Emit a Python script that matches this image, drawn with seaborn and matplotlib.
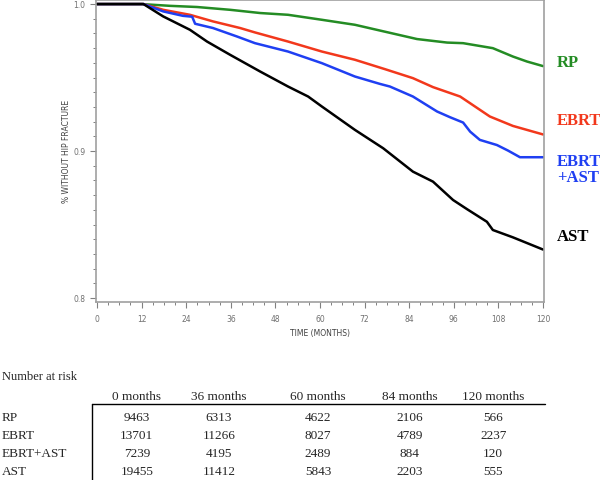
import numpy as np
import pandas as pd
import seaborn as sns
import matplotlib.pyplot as plt
from matplotlib.ticker import MultipleLocator
from matplotlib.lines import Line2D

# survival curves (months, proportion without hip fracture)
rp_month = [0, 12, 19.6, 26.9, 35.8, 43.9, 51.4, 60.5, 69.4, 76.1, 86.1, 94.2, 98.5, 106.5, 111.9, 115.7, 120]
rp_surv = [1.0, 1.0, 0.9988, 0.9980, 0.9961, 0.9939, 0.9927, 0.9893, 0.9859, 0.9820, 0.9762, 0.9738, 0.9734, 0.9700, 0.9643, 0.9609, 0.9578]

ebrt_month = [0, 12.5, 17.8, 25.0, 31.2, 38.5, 42.5, 51.4, 60.5, 69.4, 77.5, 85.0, 90.4, 97.7, 105.7, 111.9, 120]
ebrt_surv = [1.0, 1.0, 0.9961, 0.9927, 0.9882, 0.9837, 0.9807, 0.9745, 0.9677, 0.9621, 0.9557, 0.9496, 0.9435, 0.9371, 0.9235, 0.9171, 0.9113]

combo_month = [0, 12.5, 17.8, 23.1, 25.6, 26.4, 31.2, 37.7, 42.5, 51.4, 60.5, 69.4, 76.1, 78.8, 85.0, 91.5,
               95.0, 98.5, 100.4, 103.0, 107.6, 110.6, 113.8, 120]
combo_surv = [1.0, 1.0, 0.9950, 0.9920, 0.9914, 0.9866, 0.9837, 0.9779, 0.9734, 0.9677, 0.9598, 0.9507, 0.9457, 0.9439,
              0.9371, 0.9269, 0.9230, 0.9194, 0.9132, 0.9076, 0.9041, 0.9003, 0.8958, 0.8958]

ast_month = [0, 12.5, 17.8, 25.0, 29.6, 35.8, 43.9, 51.4, 56.8, 60.5, 69.4, 77.0, 85.0, 90.4, 95.8, 99.6,
             104.9, 106.5, 111.9, 120]
ast_surv = [1.0, 1.0, 0.9916, 0.9825, 0.9745, 0.9655, 0.9541, 0.9439, 0.9371, 0.9303, 0.9144, 0.9019, 0.8860,
            0.8792, 0.8667, 0.8604, 0.8519, 0.8463, 0.8413, 0.8330]

groups = ["RP", "EBRT", "EBRT+AST", "AST"]
colors = ["#248c24", "#f2381c", "#1f3ff2", "#000000"]

# number at risk table
risk_cols = ["0 months", "36 months", "60 months", "84 months", "120 months"]
risk_rp = [9463, 6313, 4622, 2106, 566]
risk_ebrt = [13701, 11266, 8027, 4789, 2237]
risk_combo = [7239, 4195, 2489, 884, 120]
risk_ast = [19455, 11412, 5843, 2203, 555]

df = pd.concat([
    pd.DataFrame({"month": rp_month, "surv": rp_surv, "group": "RP"}),
    pd.DataFrame({"month": ebrt_month, "surv": ebrt_surv, "group": "EBRT"}),
    pd.DataFrame({"month": combo_month, "surv": combo_surv, "group": "EBRT+AST"}),
    pd.DataFrame({"month": ast_month, "surv": ast_surv, "group": "AST"}),
])

sns.set_style("white")
plt.rcParams["font.family"] = ["DejaVu Sans"]

fig = plt.figure(figsize=(6, 4.8), dpi=100)
ax = fig.add_axes([0.16, 0.3708, 0.7467, 0.629])

sns.lineplot(data=df, x="month", y="surv", hue="group", hue_order=groups,
             palette=dict(zip(groups, colors)), estimator=None, sort=False,
             linewidth=1.8, legend=False, ax=ax)

ax.set_xlim(-0.27, 120.27)
ax.set_ylim(0.7973, 1.0027)
ax.set_xticks(range(0, 121, 12))
ax.xaxis.set_minor_locator(MultipleLocator(3))
ax.set_yticks([0.8, 0.9, 1.0])
ax.set_yticklabels(["0.8", "0.9", "1.0"])
ax.yaxis.set_minor_locator(MultipleLocator(0.01))
ax.tick_params(axis="both", which="major", direction="out", length=4, width=0.8,
               color="#808080", labelsize=5.5, labelcolor="#707070")
ax.tick_params(axis="both", which="minor", direction="out", length=2.5, width=0.7, color="#808080")
ax.tick_params(axis="x", pad=5)
ax.tick_params(left=True, bottom=True, which="both")

for s in ax.spines.values():
    s.set_color("#a0a0a0")
    s.set_linewidth(1.2)

ax.set_xlabel("TIME (MONTHS)", fontsize=5.5, color="#404040", labelpad=4)
ax.set_ylabel("% WITHOUT HIP FRACTURE", fontsize=5.5, color="#404040", labelpad=2)

serif = ["Liberation Serif", "DejaVu Serif"]
fig.text(0.928, 0.869, "RP", color=colors[0], fontsize=12, fontweight="bold", family=serif, va="center")
fig.text(0.928, 0.748, "EBRT", color=colors[1], fontsize=12, fontweight="bold", family=serif, va="center")
fig.text(0.928, 0.646, "EBRT\n+AST", color=colors[2], fontsize=12, fontweight="bold", family=serif,
         va="center", linespacing=1.0)
fig.text(0.928, 0.506, "AST", color=colors[3], fontsize=12, fontweight="bold", family=serif, va="center")

# number at risk
tsize = 9.5
fig.text(0.003, 0.215, "Number at risk", fontsize=9, family=serif, va="center")
col_x = [0.228, 0.365, 0.530, 0.683, 0.822]
for cx, lab in zip(col_x, risk_cols):
    fig.text(cx, 0.173, lab, fontsize=tsize, family=serif, ha="center", va="center")

row_y = [0.129, 0.092, 0.054, 0.017]
rows = [risk_rp, risk_ebrt, risk_combo, risk_ast]
for ry, name, vals in zip(row_y, groups, rows):
    fig.text(0.003, ry, name, fontsize=tsize, family=serif, va="center")
    for cx, v in zip(col_x, vals):
        fig.text(cx, ry, str(v), fontsize=tsize, family=serif, ha="center", va="center")

fig.add_artist(Line2D([0.153, 0.908], [0.158, 0.158], color="black", linewidth=1.0))
fig.add_artist(Line2D([0.153, 0.153], [0.158, 0.0], color="black", linewidth=1.0))

fig.savefig("out.png", dpi=100)
